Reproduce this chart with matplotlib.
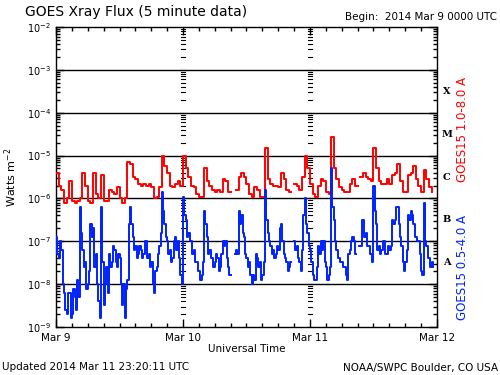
import numpy as np
import matplotlib
matplotlib.use("Agg")
import matplotlib.pyplot as plt

nan = float("nan")

# hours since 2014 Mar 9 00:00 UTC (30-minute samples)
hours = [i * 0.5 for i in range(143)]

# GOES15 1.0-8.0 A long channel (W m^-2), on the half hour
long_flux = [
    4.0e-6, 2.0e-6, 1.6e-6, 7.9e-7, 1.0e-6, 2.5e-6, 8.9e-7, 7.9e-7, 8.9e-7, 1.0e-6,
    4.0e-6, 2.0e-6, 8.9e-7, 7.9e-7, 4.0e-6, 1.26e-6, 1.0e-6, 3.5e-6, 8.9e-7, 8.9e-7,
    1.6e-6, 1.4e-6, 1.26e-6, 1.8e-6, 1.0e-6, 7.9e-7, 1.0e-6, 7.1e-6, 6.3e-6, 3.2e-6,
    2.8e-6, 2.2e-6, 2.0e-6, 2.2e-6, 2.0e-6, 2.2e-6, 1.8e-6, 1.0e-6, 1.1e-6, 1.8e-6,
    1.0e-5, 5.6e-6, 4.0e-6, 2.0e-6, 1.8e-6, 2.2e-6, 2.5e-6, 2.0e-6, 1.0e-5, 5.0e-6,
    3.2e-6, 2.0e-6, 1.8e-6, 1.26e-6, 1.1e-6, 1.1e-6, 5.0e-6, 2.5e-6, 2.0e-6, 1.6e-6,
    1.4e-6, 1.6e-6, 1.4e-6, 2.8e-6, 2.5e-6, 1.4e-6, nan, nan, 1.6e-6, 3.2e-6,
    4.0e-6, 3.2e-6, 2.2e-6, 1.26e-6, 1.1e-6, 1.8e-6, 1.6e-6, 1.1e-6, 1.1e-6, 1.5e-5,
    2.8e-6, 2.2e-6, 2.0e-6, 2.0e-6, 1.8e-6, 4.0e-6, 2.8e-6, 1.6e-6, 1.4e-6, nan,
    2.2e-6, 2.0e-6, 1.6e-6, 3.2e-6, 1.0e-5, 5.0e-6, 2.2e-6, 1.26e-6, 1.1e-6, 2.0e-6,
    2.8e-6, 2.5e-6, 1.4e-6, 1.26e-6, 2.7e-5, 5.0e-6, 2.8e-6, 1.8e-6, 1.6e-6, 1.4e-6,
    1.4e-6, 2.2e-6, 2.8e-6, 2.0e-6, nan, 3.2e-6, 4.0e-6, 3.2e-6, 2.8e-6, 2.5e-6,
    1.5e-5, 5.0e-6, 2.5e-6, 2.2e-6, 2.2e-6, 2.8e-6, 2.2e-6, 3.5e-6, 4.0e-6, 6.3e-6,
    2.5e-6, 1.4e-6, 1.4e-6, 3.5e-6, 4.0e-6, 5.6e-6, 2.8e-6, 2.0e-6, 1.4e-6, 4.5e-6,
    2.8e-6, 1.8e-6, 1.4e-6,
]

# GOES15 0.5-4.0 A short channel (W m^-2), on the half hour
short_flux_a = [
    1.26e-7, 4.0e-8, 6.3e-8, 6.3e-9, 2.0e-9, 6.3e-9, 2.0e-9, 5.0e-9, 1.26e-8, 6.3e-7,
    6.3e-8, 3.2e-8, 1.0e-8, 2.5e-7, 2.0e-7, 5.0e-8, 4.0e-9, 6.3e-7, 3.2e-9, 2.5e-8,
    5.0e-8, 3.2e-8, 6.3e-8, 2.5e-8, 4.0e-8, 3.2e-9, 1.6e-9, 1.26e-8, 6.3e-7, 1.26e-7,
    7.9e-8, 5.0e-8, 6.3e-8, 5.0e-8, 1.0e-7, 5.0e-8, 3.2e-8, 6.3e-9, 2.5e-8, 7.9e-8,
    1.4e-6, 2.5e-7, 1.0e-7, 6.3e-8, 4.0e-8, 1.26e-7, 1.0e-7, 1.6e-8, 1.1e-6, 3.2e-7,
    1.6e-7, 1.0e-7, 6.3e-8, 3.2e-8, 2.0e-8, 1.6e-8, 5.0e-7, 1.26e-7, 6.3e-8, 4.0e-8,
    3.2e-8, 4.0e-8, 2.5e-8, 1.0e-7, 1.0e-7, 2.5e-8, nan, nan, 6.3e-8, 5.0e-7,
    4.0e-7, 1.26e-7, 4.0e-8, 3.2e-8, 1.0e-8, 1.26e-8, 4.0e-8, 3.2e-8, 1.6e-8, 1.6e-6,
    1.6e-7, 7.9e-8, 6.3e-8, 5.0e-8, 6.3e-8, 2.5e-7, 5.0e-8, 3.2e-8, 2.5e-8, nan,
    1.0e-7, 7.9e-8, 3.2e-8, 6.3e-8, 1.0e-6, 1.6e-7, 6.3e-8, 1.6e-8, 1.26e-8, 7.9e-8,
    1.0e-7, 1.0e-7, 2.5e-8, 1.6e-8, 5.0e-6, 3.2e-7, 6.3e-8, 4.0e-8, 3.2e-8, 2.5e-8,
    1.26e-8, 6.3e-8, 1.26e-7, 5.0e-8, nan, 7.9e-8, 3.2e-7, 1.6e-7, 7.9e-8, 5.0e-8,
    2.0e-6, 2.5e-7, 7.9e-8, 6.3e-8, 1.0e-7, 5.0e-8, 6.3e-8, 3.2e-7, 3.2e-7, 6.3e-7,
    1.26e-7, 3.2e-8, 3.2e-8, 4.0e-7, 5.0e-7, 2.5e-7, 1.26e-7, 1.0e-7, 2.0e-8, 7.9e-7,
    7.9e-8, 4.0e-8, 3.2e-8,
]

# short channel at a quarter past each half hour
short_flux_b = [
    5.0e-8, 1.0e-7, 1.0e-8, 2.5e-9, 6.3e-9, 1.6e-9, 7.9e-9, 2.5e-9, 5.0e-9, 1.6e-7,
    2.5e-8, 7.9e-9, 2.0e-8, 1.26e-7, 2.5e-8, 1.0e-8, 1.6e-9, 3.2e-8, 1.0e-8, 6.3e-9,
    2.5e-8, 7.9e-8, 3.2e-8, 5.0e-8, 1.0e-8, 1.0e-8, 7.9e-9, 2.5e-7, 2.5e-7, 6.3e-8,
    4.0e-8, 7.9e-8, 4.0e-8, 1.0e-7, 4.0e-8, 2.5e-8, 1.0e-8, 2.0e-8, 5.0e-8, 1.6e-7,
    5.0e-7, 1.26e-7, 5.0e-8, 3.2e-8, 1.0e-7, 6.3e-8, 4.0e-8, 1.0e-8, 4.0e-7, 1.26e-7,
    1.0e-7, 5.0e-8, 3.2e-8, 2.0e-8, 1.26e-8, 3.2e-8, 2.5e-7, 5.0e-8, 4.0e-8, 2.5e-8,
    5.0e-8, 2.0e-8, 5.0e-8, 7.9e-8, 4.0e-8, 1.6e-8, nan, 5.0e-8, 5.0e-8, 2.5e-7,
    1.6e-7, 5.0e-8, 2.5e-8, 1.6e-8, 1.6e-8, 5.0e-8, 2.5e-8, 1.26e-8, 3.2e-8, 3.2e-7,
    1.0e-7, 5.0e-8, 4.0e-8, 7.9e-8, 2.0e-7, 1.0e-7, 4.0e-8, 2.0e-8, 3.2e-8, nan,
    6.3e-8, 4.0e-8, 2.0e-8, 4.0e-7, 2.5e-7, 7.9e-8, 3.2e-8, 1.26e-8, 2.5e-8, 5.0e-8,
    6.3e-8, 3.2e-8, 1.26e-8, 2.5e-8, 6.3e-7, 1.0e-7, 4.0e-8, 3.2e-8, 2.5e-8, 1.6e-8,
    5.0e-8, 1.0e-7, 1.0e-7, nan, 7.9e-8, 3.2e-7, 1.26e-7, 7.9e-8, 5.0e-8, 3.2e-8,
    5.0e-7, 6.3e-8, 5.0e-8, 1.0e-7, 5.0e-8, 7.9e-8, 7.9e-8, 2.5e-7, 6.3e-7, 2.5e-7,
    7.9e-8, 2.0e-8, 6.3e-8, 3.2e-7, 4.0e-7, 1.26e-7, 1.0e-7, 5.0e-8, 1.6e-8, 1.0e-7,
    4.0e-8, 2.5e-8, 2.5e-8,
]

day_ticks = [0, 24, 48, 72]
day_labels = ["Mar 9", "Mar 10", "Mar 11", "Mar 12"]
decades = [-9, -8, -7, -6, -5, -4, -3, -2]
class_letters = ["A", "B", "C", "M", "X"]
class_exps = [-7.5, -6.5, -5.5, -4.5, -3.5]

# interleave the two short-channel samplings into one 15-minute series
short_hours = np.column_stack([hours, np.array(hours) + 0.25]).ravel()
short_flux = np.column_stack([short_flux_a, short_flux_b]).ravel()

fig = plt.figure(figsize=(5, 3.75), dpi=100)
ax = fig.add_axes([0.112, 0.128, 0.762, 0.800])
ax.set_yscale("log")
ax.set_xlim(0, 72)
ax.set_ylim(1e-9, 1e-2)

for e in decades[1:-1]:
    ax.axhline(10.0 ** e, color="black", lw=1.0, zorder=1)

ax.plot(hours, long_flux, drawstyle="steps-post", color="#ff0000", lw=1.4, zorder=3)
ax.plot(short_hours, short_flux, drawstyle="steps-post", color="#0022ff", lw=1.4, zorder=3)

ax.set_xticks(day_ticks)
ax.set_xticklabels(day_labels, fontsize=7.5)
ax.set_xticks(np.arange(0, 73, 3), minor=True)
ax.tick_params(axis="x", which="both", direction="in", top=True, bottom=True, pad=4)
ax.tick_params(axis="x", which="major", length=6, width=1)
ax.tick_params(axis="x", which="minor", length=3, width=1)
ax.set_yticks([10.0 ** e for e in decades])
ax.set_yticklabels([r"$10^{%d}$" % e for e in decades], fontsize=7)
ax.yaxis.set_minor_locator(matplotlib.ticker.LogLocator(base=10, subs=np.arange(2, 10)))
ax.yaxis.set_minor_formatter(matplotlib.ticker.NullFormatter())
ax.tick_params(axis="y", which="both", direction="in", left=True, right=True, width=1)
ax.tick_params(axis="y", which="major", length=6)
ax.tick_params(axis="y", which="minor", length=3)
for s in ax.spines.values():
    s.set_linewidth(1.0)

# y tick marks repeated at day boundaries
for d in day_ticks[1:-1]:
    for e in decades[:-1]:
        for m in range(1, 10):
            v = m * 10.0 ** e
            half = 0.55 if m == 1 else 0.35
            ax.plot([d - half, d + half], [v, v], color="black", lw=0.8, zorder=2)

# flare class letters on the right
for lab, e in zip(class_letters, class_exps):
    ax.text(1.025, 10.0 ** e, lab, transform=ax.get_yaxis_transform(), fontsize=7,
            fontweight="bold", family="DejaVu Serif", va="center", ha="center")

ax.set_ylabel("Watts m$^{-2}$", fontsize=8, labelpad=6)
ax.set_xlabel("Universal Time", fontsize=7.5, labelpad=1)

fig.text(0.05, 0.968, "GOES Xray Flux (5 minute data)", fontsize=10, va="center", ha="left")
fig.text(0.994, 0.955, "Begin:  2014 Mar 9 0000 UTC", fontsize=7.5, va="center", ha="right")
fig.text(0.003, 0.02, "Updated 2014 Mar 11 23:20:11 UTC", fontsize=7.5, va="center", ha="left")
fig.text(0.997, 0.02, "NOAA/SWPC Boulder, CO USA", fontsize=7.5, va="center", ha="right")
fig.text(0.924, 1 - 130 / 375, "GOES15 1.0-8.0 A", fontsize=8.5, color="#ff0000",
         rotation=90, va="center", ha="center")
fig.text(0.924, 1 - 267 / 375, "GOES15 0.5-4.0 A", fontsize=8.5, color="#0022ff",
         rotation=90, va="center", ha="center")

fig.savefig("out.png", dpi=100)
